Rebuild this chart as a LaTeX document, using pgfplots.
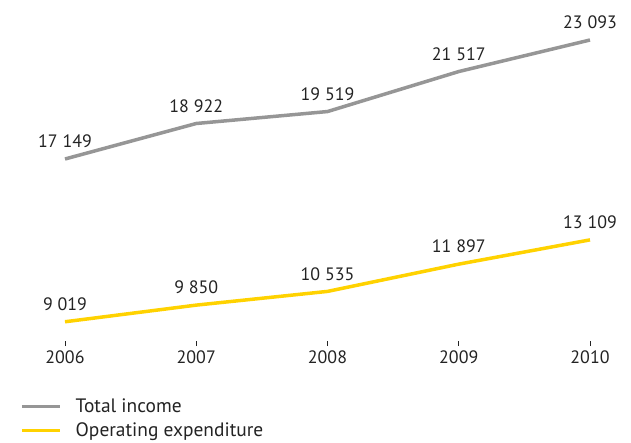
\documentclass[border=0pt]{standalone}
\usepackage{pgfplots}
\pgfplotsset{compat=1.18}
\usepackage{fontspec}
\setmainfont{PT Sans}
\definecolor{incgray}{RGB}{150,150,150}
\definecolor{expyellow}{RGB}{255,210,0}
\definecolor{txt}{RGB}{35,35,35}

\begin{document}
\begin{tikzpicture}
\path[use as bounding box] (-65bp,-97bp) rectangle (566bp,346bp);
\begin{axis}[
  at={(0,0)}, anchor=south west,
  scale only axis,
  width=525bp, height=306bp,
  xmin=2006, xmax=2010,
  ymin=7808, ymax=23093,
  clip=false,
  axis line style={draw=none},
  ytick=\empty,
  xtick={2006,2007,2008,2009,2010},
  xticklabels={2006,2007,2008,2009,2010},
  xtick pos=bottom,
  tick align=inside,
  major tick length=5bp,
  tick style={draw=txt, line width=0.6pt},
  xticklabel style={font=\fontsize{18}{20}\selectfont, text=txt, yshift=-1.5bp},
  nodes near coords,
  point meta=explicit symbolic,
  every node near coord/.append style={font=\fontsize{18}{20}\selectfont, text=txt, anchor=south, yshift=6bp},
  legend style={at={(rel axis cs:-0.0857,-0.165)}, anchor=north west, draw=none,
    fill=none, inner sep=0pt, row sep=5bp,
    font=\fontsize{19.5}{21}\selectfont, text=txt,
    nodes={inner sep=2bp}},
  legend cell align=left,
  legend image code/.code={\draw[#1, line width=3.5bp] (0bp,0bp) -- (38bp,0bp);},
]
\addplot[incgray, line width=3.5bp] coordinates {
  (2006,17149) [17 149]
  (2007,18922) [18 922]
  (2008,19519) [19 519]
  (2009,21517) [21 517]
  (2010,23093) [23 093]
};
\addlegendentry{\hspace{12bp}Total income}
\addplot[expyellow, line width=3.5bp] coordinates {
  (2006,9019) [9 019]
  (2007,9850) [9 850]
  (2008,10535) [10 535]
  (2009,11897) [11 897]
  (2010,13109) [13 109]
};
\addlegendentry{\hspace{12bp}Operating expenditure}
\end{axis}
\end{tikzpicture}
\end{document}
